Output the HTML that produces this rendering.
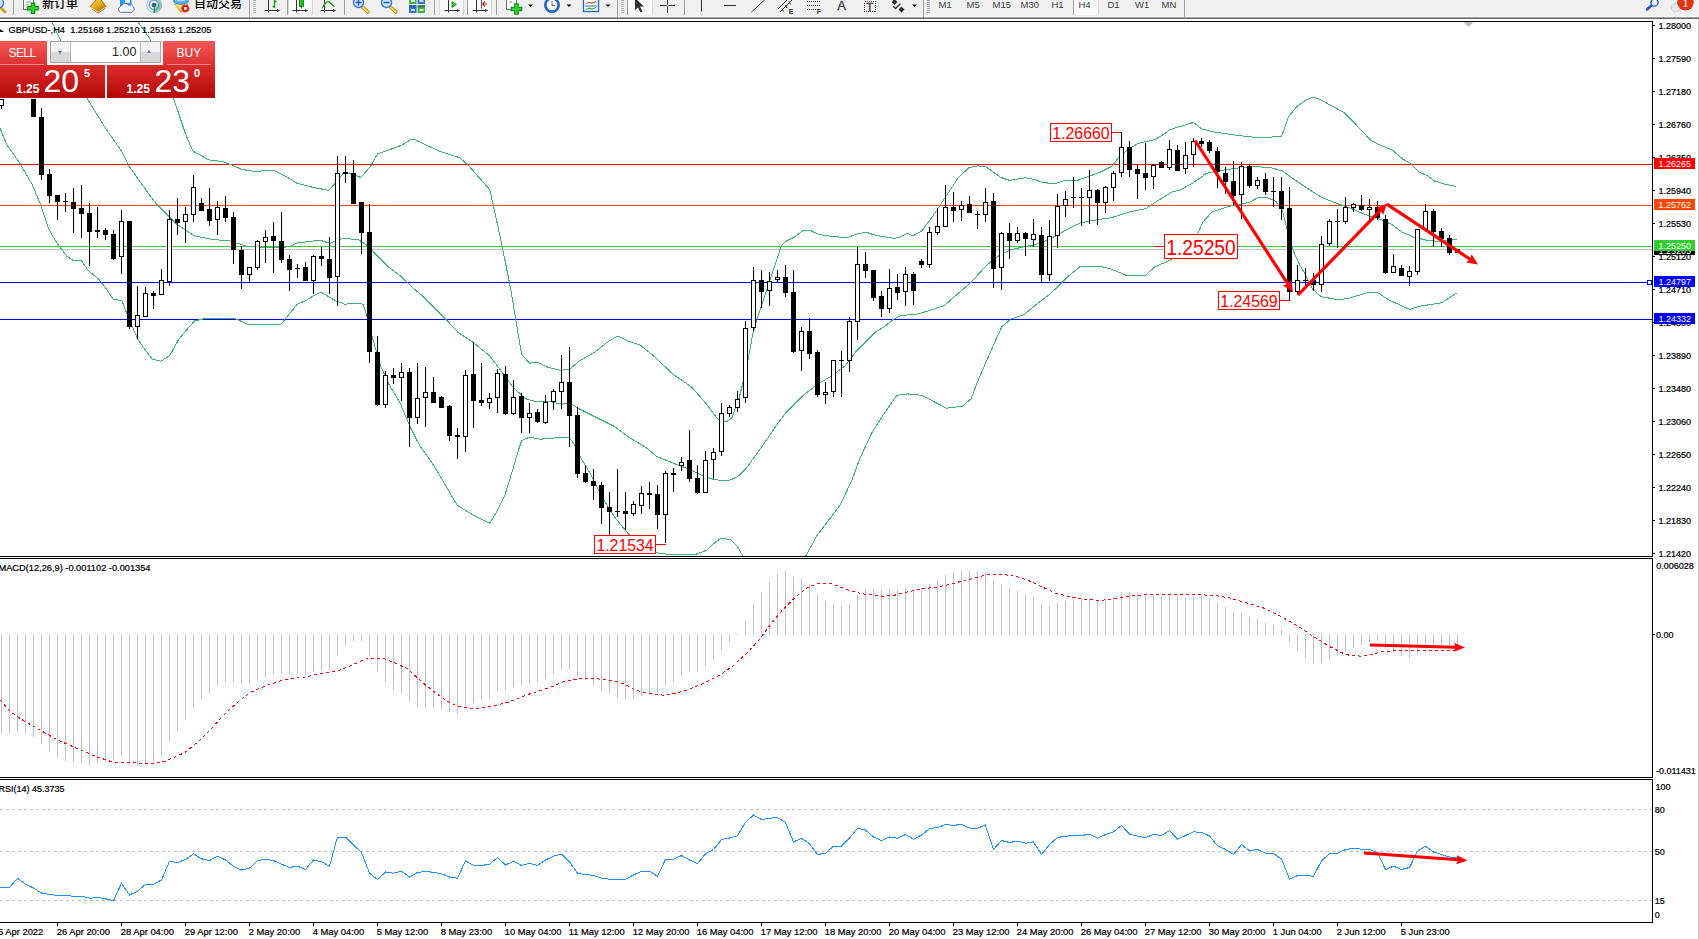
<!DOCTYPE html>
<html lang="zh"><head><meta charset="utf-8"><title>GBPUSD-,H4</title>
<style>
html,body{margin:0;padding:0;background:#fff;}
body{width:1699px;height:939px;overflow:hidden;position:relative;font-family:"Liberation Sans","Noto Sans CJK SC",sans-serif;}
#chart{position:absolute;left:0;top:0;width:1699px;height:939px;}
#chart text{font-family:"Liberation Sans","Noto Sans CJK SC",sans-serif;}
#chart g.k text{stroke:#000;stroke-width:.22px;}
#tb{position:absolute;left:0;top:0;width:1699px;height:17px;background:#f0f0f0;border-bottom:1px solid #a0a0a0;overflow:hidden;}
#tb .t{position:absolute;top:-3.6px;font-size:12px;line-height:16px;color:#000;white-space:nowrap;font-weight:500;}
#tb .p{position:absolute;top:-0.6px;font-size:9.5px;line-height:11px;color:#3c3c3c;white-space:nowrap;}
#tb .sep{position:absolute;top:0;width:1px;height:15px;background:#a0a0a0;}
#tb .grip{position:absolute;top:0;width:3px;height:14px;background:repeating-linear-gradient(#b0b0b0 0 1px,#f0f0f0 1px 2px);}
#tb .hl{position:absolute;top:0;height:15px;background:#fafafa;border-left:1px solid #d8d8d8;border-right:1px solid #d8d8d8;}
#tb svg{position:absolute;left:0;top:0;}
#oc{position:absolute;left:0;top:41px;width:215px;height:57px;color:#fff;}
#oc div{position:absolute;box-sizing:border-box;}
#oc .sell{left:0;top:0;width:47px;height:24px;background:linear-gradient(#f65656,#dc3232);}
#oc .buy{left:163px;top:0;width:52px;height:24px;background:linear-gradient(#f65656,#dc3232);}
#oc .mid{left:47px;top:0;width:116px;height:24px;background:#f6f6f6;}
#oc .fld{left:50px;top:0;width:111px;height:22px;background:#fff;border:1px solid #a8a8a8;}
#oc .dn{left:51px;top:1px;width:20px;height:20px;background:linear-gradient(#f4f4f4 0 45%,#d8d8d8 55% 100%);border-right:1px solid #b8b8b8;}
#oc .up{left:140px;top:1px;width:20px;height:20px;background:linear-gradient(#f4f4f4 0 45%,#d8d8d8 55% 100%);border-left:1px solid #b8b8b8;}
#oc .ps{left:0;top:24px;width:105px;height:33px;background:linear-gradient(#da2c2c,#b40808);}
#oc .pb{left:107px;top:24px;width:108px;height:33px;background:linear-gradient(#da2c2c,#b40808);}
#oc .gap{left:105px;top:24px;width:2px;height:33px;background:#f4f4f4;}
#oc span{position:absolute;white-space:nowrap;line-height:1;}
#oc .lb{font-size:12px;top:6px;letter-spacing:-0.6px;}
#oc .vol{font-size:12.5px;color:#222;top:5px;}
#oc .sm{font-size:12px;font-weight:bold;top:42px;}
#oc .big{font-size:32px;top:24.2px;letter-spacing:0px;}
#oc .sup{font-size:11px;font-weight:bold;top:27px;}
#oc .tri{width:0;height:0;border-left:2.5px solid transparent;border-right:2.5px solid transparent;}
#oc .hln{height:1px;top:23px;background:rgba(255,200,200,.55);}

</style></head>
<body>
<svg id="chart" width="1699" height="939" viewBox="0 0 1699 939">
<defs><clipPath id="cm"><rect x="0" y="22" width="1652" height="534"/></clipPath><clipPath id="c2"><rect x="0" y="559" width="1652" height="218"/></clipPath><clipPath id="c3"><rect x="0" y="780" width="1652" height="142"/></clipPath></defs>
<g shape-rendering="crispEdges">
<rect x="0" y="21" width="1653" height="1" fill="#000"/>
<rect x="1652" y="21" width="1" height="902" fill="#000"/>
<rect x="0" y="556" width="1653" height="1" fill="#000"/>
<rect x="0" y="557" width="1653" height="1" fill="#fbfbfb"/>
<rect x="0" y="558" width="1653" height="1" fill="#000"/>
<rect x="0" y="777" width="1653" height="1" fill="#000"/>
<rect x="0" y="778" width="1653" height="1" fill="#fbfbfb"/>
<rect x="0" y="779" width="1653" height="1" fill="#000"/>
<rect x="0" y="922" width="1653" height="1" fill="#000"/>
<rect x="1698" y="18" width="1" height="921" fill="#c8c8c8"/>
<rect x="0" y="18" width="1699" height="1" fill="#6c6c6c"/>
</g>
<g shape-rendering="crispEdges">
<rect x="0" y="164" width="1652" height="1" fill="#ff0000"/>
<rect x="0" y="205" width="1652" height="1" fill="#ff4500"/>
<rect x="0" y="249" width="1652" height="1" fill="#c0c0c0"/>
<rect x="0" y="246" width="1652" height="1" fill="#32cd32"/>
<rect x="0" y="282" width="1652" height="1" fill="#0000ff"/>
<rect x="0" y="319" width="1652" height="1" fill="#0000ff"/>
</g>
<g clip-path="url(#cm)" fill="none" stroke="#3cb371" stroke-width="1" shape-rendering="crispEdges">
<polyline points="136.0,18.0 138.0,22.0 149.6,38.3 174.0,100.0 178.5,113.0 185.6,134.2 192.7,151.0 208.6,159.8 222.7,161.6 229.8,164.2 242.0,169.5 254.5,171.3 274.0,170.4 286.4,176.6 290.0,178.9 297.0,183.3 313.0,187.4 328.9,190.4 334.2,184.2 343.0,173.6 351.0,173.0 360.7,177.6 370.4,166.5 377.5,153.8 387.2,150.6 401.4,145.3 410.2,140.0 414.0,139.0 417.3,140.9 440.3,151.5 459.7,157.7 468.5,165.6 489.7,189.5 493.3,205.4 502.1,246.0 509.2,281.4 511.9,296.0 516.3,322.5 521.6,354.3 529.5,363.2 537.5,362.3 546.3,366.7 560.0,370.2 569.4,369.5 578.8,361.3 595.3,351.8 607.0,342.4 617.7,336.0 628.3,341.2 640.0,344.8 654.2,356.5 673.0,374.2 691.8,387.2 706.0,403.6 717.7,418.9 726.0,422.0 731.9,417.8 738.9,398.9 746.0,370.7 753.0,333.0 760.1,309.5 767.2,288.3 774.2,267.0 781.3,245.9 786.0,241.2 795.4,236.5 802.5,231.0 809.6,230.1 819.0,234.6 833.0,236.5 847.2,237.7 856.6,234.0 866.0,232.2 875.5,235.3 894.3,238.4 900.0,237.0 907.0,233.4 913.3,235.7 922.0,230.8 933.6,214.9 944.2,199.0 958.3,177.7 969.0,167.5 977.8,165.9 985.7,166.6 1000.8,177.4 1009.6,180.4 1025.5,177.7 1034.3,179.5 1043.2,182.7 1055.6,183.6 1066.2,180.0 1078.5,180.0 1087.4,176.8 1099.8,172.4 1112.0,166.2 1119.2,156.5 1128.0,149.4 1138.6,143.3 1154.5,139.7 1165.2,133.5 1169.0,129.8 1183.7,125.4 1193.5,122.4 1201.6,128.9 1213.5,131.9 1224.2,133.5 1240.0,135.7 1256.0,137.4 1268.3,137.2 1281.5,136.4 1285.0,127.2 1288.6,116.6 1296.6,106.8 1305.4,100.3 1313.4,97.1 1319.5,99.2 1330.2,105.0 1344.3,112.7 1356.7,125.4 1370.8,140.4 1381.4,145.7 1392.0,149.8 1402.6,159.0 1409.7,163.0 1418.5,171.7 1427.4,175.8 1434.4,181.0 1445.0,184.3 1456.5,186.4"/>
<polyline points="50.0,18.0 52.1,22.0 59.6,38.3 88.0,100.0 106.0,128.9 122.0,151.9 129.0,166.0 141.4,183.7 155.5,203.0 169.7,217.0 176.8,224.3 194.4,235.8 212.0,239.4 229.8,241.0 247.5,246.4 265.0,247.3 282.8,247.3 290.0,246.6 297.0,243.0 320.0,240.2 329.8,243.4 343.0,238.1 359.0,239.9 367.8,246.0 374.8,253.1 389.0,267.3 399.6,275.2 413.7,288.5 422.6,296.0 436.7,310.0 445.6,319.0 457.9,332.2 473.8,342.8 489.8,356.0 502.0,372.0 512.7,387.0 521.6,395.0 526.9,399.4 537.5,401.7 551.6,402.0 562.2,404.2 567.5,403.0 573.8,405.3 578.0,408.3 593.2,415.9 614.4,426.5 628.6,437.1 646.3,447.7 656.9,456.6 674.5,463.6 690.0,469.5 700.6,474.8 713.0,479.3 721.8,480.5 729.8,480.2 737.7,476.6 746.6,467.8 760.7,448.3 778.4,422.7 785.5,413.0 796.0,402.4 805.0,393.8 820.8,382.3 831.4,376.0 845.6,365.5 856.0,351.4 866.8,340.8 875.6,332.0 884.4,326.6 893.3,319.5 900.4,315.7 918.0,313.9 932.0,309.8 944.5,305.4 958.7,293.0 971.0,282.4 986.6,265.2 999.0,255.5 1009.6,250.2 1023.7,246.7 1034.3,244.9 1046.7,240.5 1055.6,236.0 1067.9,229.0 1080.3,222.8 1094.4,220.2 1112.0,217.5 1129.8,211.8 1145.7,208.7 1156.3,201.6 1172.0,192.0 1180.0,190.0 1192.0,183.5 1200.0,178.0 1206.5,173.3 1222.4,170.3 1238.3,168.0 1256.0,166.6 1272.0,168.0 1282.5,171.0 1293.0,178.6 1307.3,188.3 1321.4,197.2 1335.6,203.0 1349.7,207.8 1363.8,214.0 1378.0,218.4 1392.1,224.6 1402.7,232.5 1413.3,237.0 1427.5,240.5 1441.6,241.4 1448.7,240.5 1456.6,239.2"/>
<polyline points="-2.0,124.0 0.0,128.0 6.8,145.0 10.6,150.0 19.4,162.5 31.8,183.7 40.7,205.0 47.7,226.5 53.0,236.7 58.3,245.0 67.2,256.6 74.2,261.0 81.3,260.5 88.4,270.7 99.0,279.5 106.0,288.4 113.0,299.0 122.0,300.8 127.3,315.0 137.9,339.7 152.0,359.0 160.9,361.2 169.7,355.6 178.5,339.7 187.4,329.0 194.5,321.0 205.0,318.4 235.0,318.4 247.5,324.3 265.0,324.3 281.0,324.3 290.0,313.0 297.0,304.5 306.0,300.5 313.0,296.0 321.0,292.0 329.0,297.0 336.0,300.9 344.8,304.2 360.7,303.0 363.4,305.0 367.8,319.0 372.2,336.7 380.2,365.0 389.0,384.4 399.6,402.0 410.2,426.8 417.3,441.0 420.0,446.0 431.4,462.0 441.2,477.8 457.1,505.2 473.0,514.9 489.8,523.2 496.0,513.0 504.8,495.5 511.9,472.5 518.1,451.3 521.6,440.7 529.6,437.1 540.2,439.2 554.3,438.0 568.5,437.1 573.8,443.3 580.0,456.6 589.7,472.5 598.5,490.2 607.4,506.0 614.4,516.7 625.0,529.9 629.5,535.2 640.0,544.0 656.9,552.9 667.5,554.3 695.8,554.3 706.4,550.3 716.5,541.1 721.8,538.1 730.7,539.9 736.8,545.6 743.0,556.0 760.0,575.0 790.0,575.0 805.8,556.0 817.3,535.0 840.3,504.9 852.6,478.4 859.7,458.9 872.0,432.4 884.5,413.0 896.8,395.3 907.4,393.9 921.6,395.3 941.0,405.3 946.3,408.2 962.2,406.3 971.0,398.8 979.9,376.0 989.8,353.5 1001.8,326.7 1010.7,319.2 1024.1,314.7 1034.6,305.8 1049.5,294.5 1059.0,285.6 1069.7,275.0 1080.3,266.5 1099.8,266.1 1110.4,268.8 1126.3,275.3 1145.7,275.3 1154.5,267.0 1170.5,260.0 1198.0,233.0 1203.0,221.9 1211.8,212.2 1224.2,207.8 1234.8,205.1 1249.0,202.5 1257.8,197.7 1268.4,198.0 1276.3,201.6 1282.5,211.3 1287.0,229.0 1293.0,250.2 1300.2,266.1 1303.7,271.5 1312.6,289.2 1321.4,296.8 1339.0,299.8 1349.7,298.0 1369.0,292.2 1377.0,292.2 1388.6,299.8 1409.8,309.5 1418.6,306.4 1441.6,302.8 1456.6,293.0"/>
</g>
<polygon points="1463.5,22 1473.5,22 1468.5,27.3" fill="#c0c0c0"/>
<rect x="1647.5" y="280.5" width="4" height="4" fill="#fff" stroke="#0000ff" stroke-width="1" shape-rendering="crispEdges"/>
<g shape-rendering="crispEdges" fill="#ff0000">
<rect x="1111" y="132" width="11" height="1"/>
<rect x="656" y="544" width="10" height="1"/>
<rect x="1280" y="300" width="10" height="1"/>
<rect x="1154" y="246" width="10" height="1"/>
</g>
<rect x="1050.5" y="123.5" width="61" height="18" fill="#fff" stroke="#ff0000" stroke-width="1" shape-rendering="crispEdges"/><text x="1052.3" y="139.2" font-size="17.4" fill="#ff0000" textLength="57.3" lengthAdjust="spacingAndGlyphs">1.26660</text>
<rect x="594.5" y="535.5" width="61" height="18" fill="#fff" stroke="#ff0000" stroke-width="1" shape-rendering="crispEdges"/><text x="596.4" y="551.2" font-size="17.4" fill="#ff0000" textLength="57.3" lengthAdjust="spacingAndGlyphs">1.21534</text>
<rect x="1218.5" y="291.5" width="61" height="18" fill="#fff" stroke="#ff0000" stroke-width="1" shape-rendering="crispEdges"/><text x="1220.3" y="307.2" font-size="17.4" fill="#ff0000" textLength="57.3" lengthAdjust="spacingAndGlyphs">1.24569</text>
<rect x="1164.5" y="234.5" width="73" height="24" fill="#fff" stroke="#ff0000" stroke-width="1" shape-rendering="crispEdges"/><text x="1166.3" y="255.0" font-size="22.3" fill="#ff0000" textLength="69.4" lengthAdjust="spacingAndGlyphs">1.25250</text>
<g clip-path="url(#cm)" shape-rendering="crispEdges">
<rect x="1" y="99" width="1" height="10" fill="#000"/>
<rect x="-1" y="99" width="5" height="7" fill="#000"/>
<rect x="0" y="100" width="3" height="5" fill="#fff"/>
<rect x="33" y="99" width="1" height="18" fill="#000"/>
<rect x="31" y="99" width="5" height="18" fill="#000"/>
<rect x="41" y="108" width="1" height="72" fill="#000"/>
<rect x="39" y="117" width="5" height="58" fill="#000"/>
<rect x="49" y="169" width="1" height="34" fill="#000"/>
<rect x="47" y="174" width="5" height="22" fill="#000"/>
<rect x="57" y="195" width="1" height="25" fill="#000"/>
<rect x="55" y="195" width="5" height="7" fill="#000"/>
<rect x="65" y="193" width="1" height="19" fill="#000"/>
<rect x="63" y="201" width="5" height="1" fill="#000"/>
<rect x="73" y="188" width="1" height="45" fill="#000"/>
<rect x="71" y="202" width="5" height="7" fill="#000"/>
<rect x="81" y="185" width="1" height="53" fill="#000"/>
<rect x="79" y="208" width="5" height="6" fill="#000"/>
<rect x="89" y="203" width="1" height="63" fill="#000"/>
<rect x="87" y="213" width="5" height="19" fill="#000"/>
<rect x="97" y="207" width="1" height="31" fill="#000"/>
<rect x="95" y="230" width="5" height="2" fill="#000"/>
<rect x="105" y="228" width="1" height="12" fill="#000"/>
<rect x="103" y="230" width="5" height="5" fill="#000"/>
<rect x="113" y="230" width="1" height="30" fill="#000"/>
<rect x="111" y="234" width="5" height="25" fill="#000"/>
<rect x="121" y="210" width="1" height="64" fill="#000"/>
<rect x="119" y="221" width="5" height="36" fill="#000"/>
<rect x="120" y="222" width="3" height="34" fill="#fff"/>
<rect x="129" y="221" width="1" height="108" fill="#000"/>
<rect x="127" y="221" width="5" height="106" fill="#000"/>
<rect x="137" y="286" width="1" height="53" fill="#000"/>
<rect x="135" y="315" width="5" height="12" fill="#000"/>
<rect x="136" y="316" width="3" height="10" fill="#fff"/>
<rect x="145" y="287" width="1" height="30" fill="#000"/>
<rect x="143" y="293" width="5" height="24" fill="#000"/>
<rect x="144" y="294" width="3" height="22" fill="#fff"/>
<rect x="153" y="291" width="1" height="18" fill="#000"/>
<rect x="151" y="293" width="5" height="3" fill="#000"/>
<rect x="161" y="269" width="1" height="26" fill="#000"/>
<rect x="159" y="280" width="5" height="15" fill="#000"/>
<rect x="160" y="281" width="3" height="13" fill="#fff"/>
<rect x="169" y="210" width="1" height="76" fill="#000"/>
<rect x="167" y="219" width="5" height="63" fill="#000"/>
<rect x="168" y="220" width="3" height="61" fill="#fff"/>
<rect x="177" y="198" width="1" height="37" fill="#000"/>
<rect x="175" y="219" width="5" height="4" fill="#000"/>
<rect x="185" y="207" width="1" height="36" fill="#000"/>
<rect x="183" y="214" width="5" height="8" fill="#000"/>
<rect x="184" y="215" width="3" height="6" fill="#fff"/>
<rect x="193" y="175" width="1" height="47" fill="#000"/>
<rect x="191" y="187" width="5" height="28" fill="#000"/>
<rect x="192" y="188" width="3" height="26" fill="#fff"/>
<rect x="201" y="198" width="1" height="13" fill="#000"/>
<rect x="199" y="203" width="5" height="8" fill="#000"/>
<rect x="209" y="188" width="1" height="38" fill="#000"/>
<rect x="207" y="209" width="5" height="12" fill="#000"/>
<rect x="217" y="201" width="1" height="34" fill="#000"/>
<rect x="215" y="207" width="5" height="13" fill="#000"/>
<rect x="216" y="208" width="3" height="11" fill="#fff"/>
<rect x="225" y="196" width="1" height="26" fill="#000"/>
<rect x="223" y="208" width="5" height="10" fill="#000"/>
<rect x="233" y="212" width="1" height="52" fill="#000"/>
<rect x="231" y="217" width="5" height="33" fill="#000"/>
<rect x="241" y="246" width="1" height="43" fill="#000"/>
<rect x="239" y="250" width="5" height="25" fill="#000"/>
<rect x="249" y="267" width="1" height="15" fill="#000"/>
<rect x="247" y="267" width="5" height="8" fill="#000"/>
<rect x="248" y="268" width="3" height="6" fill="#fff"/>
<rect x="257" y="240" width="1" height="30" fill="#000"/>
<rect x="255" y="241" width="5" height="27" fill="#000"/>
<rect x="256" y="242" width="3" height="25" fill="#fff"/>
<rect x="265" y="230" width="1" height="33" fill="#000"/>
<rect x="263" y="237" width="5" height="5" fill="#000"/>
<rect x="264" y="238" width="3" height="3" fill="#fff"/>
<rect x="273" y="222" width="1" height="51" fill="#000"/>
<rect x="271" y="236" width="5" height="5" fill="#000"/>
<rect x="281" y="212" width="1" height="51" fill="#000"/>
<rect x="279" y="241" width="5" height="19" fill="#000"/>
<rect x="289" y="255" width="1" height="36" fill="#000"/>
<rect x="287" y="259" width="5" height="11" fill="#000"/>
<rect x="297" y="264" width="1" height="14" fill="#000"/>
<rect x="295" y="268" width="5" height="1" fill="#000"/>
<rect x="305" y="262" width="1" height="19" fill="#000"/>
<rect x="303" y="267" width="5" height="14" fill="#000"/>
<rect x="313" y="255" width="1" height="39" fill="#000"/>
<rect x="311" y="256" width="5" height="25" fill="#000"/>
<rect x="312" y="257" width="3" height="23" fill="#fff"/>
<rect x="321" y="247" width="1" height="19" fill="#000"/>
<rect x="319" y="256" width="5" height="3" fill="#000"/>
<rect x="329" y="237" width="1" height="57" fill="#000"/>
<rect x="327" y="259" width="5" height="19" fill="#000"/>
<rect x="337" y="156" width="1" height="150" fill="#000"/>
<rect x="335" y="173" width="5" height="104" fill="#000"/>
<rect x="336" y="174" width="3" height="102" fill="#fff"/>
<rect x="345" y="156" width="1" height="27" fill="#000"/>
<rect x="343" y="172" width="5" height="2" fill="#000"/>
<rect x="353" y="160" width="1" height="44" fill="#000"/>
<rect x="351" y="173" width="5" height="31" fill="#000"/>
<rect x="361" y="202" width="1" height="52" fill="#000"/>
<rect x="359" y="202" width="5" height="31" fill="#000"/>
<rect x="369" y="204" width="1" height="159" fill="#000"/>
<rect x="367" y="232" width="5" height="120" fill="#000"/>
<rect x="377" y="336" width="1" height="70" fill="#000"/>
<rect x="375" y="352" width="5" height="53" fill="#000"/>
<rect x="385" y="371" width="1" height="37" fill="#000"/>
<rect x="383" y="375" width="5" height="30" fill="#000"/>
<rect x="384" y="376" width="3" height="28" fill="#fff"/>
<rect x="393" y="368" width="1" height="16" fill="#000"/>
<rect x="391" y="375" width="5" height="3" fill="#000"/>
<rect x="401" y="363" width="1" height="38" fill="#000"/>
<rect x="399" y="372" width="5" height="6" fill="#000"/>
<rect x="400" y="373" width="3" height="4" fill="#fff"/>
<rect x="409" y="368" width="1" height="79" fill="#000"/>
<rect x="407" y="372" width="5" height="46" fill="#000"/>
<rect x="417" y="363" width="1" height="61" fill="#000"/>
<rect x="415" y="398" width="5" height="20" fill="#000"/>
<rect x="416" y="399" width="3" height="18" fill="#fff"/>
<rect x="425" y="367" width="1" height="60" fill="#000"/>
<rect x="423" y="392" width="5" height="6" fill="#000"/>
<rect x="424" y="393" width="3" height="4" fill="#fff"/>
<rect x="433" y="377" width="1" height="26" fill="#000"/>
<rect x="431" y="392" width="5" height="11" fill="#000"/>
<rect x="441" y="396" width="1" height="12" fill="#000"/>
<rect x="439" y="397" width="5" height="11" fill="#000"/>
<rect x="449" y="405" width="1" height="36" fill="#000"/>
<rect x="447" y="406" width="5" height="30" fill="#000"/>
<rect x="457" y="428" width="1" height="31" fill="#000"/>
<rect x="455" y="435" width="5" height="2" fill="#000"/>
<rect x="465" y="370" width="1" height="82" fill="#000"/>
<rect x="463" y="375" width="5" height="62" fill="#000"/>
<rect x="464" y="376" width="3" height="60" fill="#fff"/>
<rect x="473" y="342" width="1" height="86" fill="#000"/>
<rect x="471" y="374" width="5" height="27" fill="#000"/>
<rect x="481" y="363" width="1" height="43" fill="#000"/>
<rect x="479" y="400" width="5" height="3" fill="#000"/>
<rect x="489" y="393" width="1" height="16" fill="#000"/>
<rect x="487" y="398" width="5" height="5" fill="#000"/>
<rect x="488" y="399" width="3" height="3" fill="#fff"/>
<rect x="497" y="369" width="1" height="44" fill="#000"/>
<rect x="495" y="373" width="5" height="25" fill="#000"/>
<rect x="496" y="374" width="3" height="23" fill="#fff"/>
<rect x="505" y="366" width="1" height="49" fill="#000"/>
<rect x="503" y="374" width="5" height="40" fill="#000"/>
<rect x="513" y="380" width="1" height="35" fill="#000"/>
<rect x="511" y="397" width="5" height="17" fill="#000"/>
<rect x="512" y="398" width="3" height="15" fill="#fff"/>
<rect x="521" y="393" width="1" height="40" fill="#000"/>
<rect x="519" y="396" width="5" height="22" fill="#000"/>
<rect x="529" y="403" width="1" height="30" fill="#000"/>
<rect x="527" y="413" width="5" height="5" fill="#000"/>
<rect x="528" y="414" width="3" height="3" fill="#fff"/>
<rect x="537" y="409" width="1" height="14" fill="#000"/>
<rect x="535" y="412" width="5" height="10" fill="#000"/>
<rect x="545" y="395" width="1" height="29" fill="#000"/>
<rect x="543" y="402" width="5" height="21" fill="#000"/>
<rect x="544" y="403" width="3" height="19" fill="#fff"/>
<rect x="553" y="389" width="1" height="21" fill="#000"/>
<rect x="551" y="391" width="5" height="11" fill="#000"/>
<rect x="552" y="392" width="3" height="9" fill="#fff"/>
<rect x="561" y="355" width="1" height="54" fill="#000"/>
<rect x="559" y="382" width="5" height="10" fill="#000"/>
<rect x="560" y="383" width="3" height="8" fill="#fff"/>
<rect x="569" y="347" width="1" height="100" fill="#000"/>
<rect x="567" y="382" width="5" height="34" fill="#000"/>
<rect x="577" y="407" width="1" height="71" fill="#000"/>
<rect x="575" y="415" width="5" height="59" fill="#000"/>
<rect x="585" y="465" width="1" height="18" fill="#000"/>
<rect x="583" y="473" width="5" height="9" fill="#000"/>
<rect x="593" y="469" width="1" height="31" fill="#000"/>
<rect x="591" y="481" width="5" height="5" fill="#000"/>
<rect x="601" y="482" width="1" height="42" fill="#000"/>
<rect x="599" y="485" width="5" height="23" fill="#000"/>
<rect x="609" y="492" width="1" height="43" fill="#000"/>
<rect x="607" y="507" width="5" height="5" fill="#000"/>
<rect x="617" y="469" width="1" height="48" fill="#000"/>
<rect x="615" y="511" width="5" height="1" fill="#000"/>
<rect x="625" y="492" width="1" height="38" fill="#000"/>
<rect x="623" y="511" width="5" height="3" fill="#000"/>
<rect x="633" y="501" width="1" height="15" fill="#000"/>
<rect x="631" y="504" width="5" height="10" fill="#000"/>
<rect x="632" y="505" width="3" height="8" fill="#fff"/>
<rect x="641" y="486" width="1" height="28" fill="#000"/>
<rect x="639" y="493" width="5" height="13" fill="#000"/>
<rect x="640" y="494" width="3" height="11" fill="#fff"/>
<rect x="649" y="482" width="1" height="27" fill="#000"/>
<rect x="647" y="493" width="5" height="2" fill="#000"/>
<rect x="657" y="485" width="1" height="44" fill="#000"/>
<rect x="655" y="494" width="5" height="21" fill="#000"/>
<rect x="665" y="471" width="1" height="72" fill="#000"/>
<rect x="663" y="473" width="5" height="42" fill="#000"/>
<rect x="664" y="474" width="3" height="40" fill="#fff"/>
<rect x="673" y="468" width="1" height="24" fill="#000"/>
<rect x="671" y="473" width="5" height="2" fill="#000"/>
<rect x="681" y="457" width="1" height="14" fill="#000"/>
<rect x="679" y="462" width="5" height="4" fill="#000"/>
<rect x="680" y="463" width="3" height="2" fill="#fff"/>
<rect x="689" y="430" width="1" height="52" fill="#000"/>
<rect x="687" y="460" width="5" height="19" fill="#000"/>
<rect x="697" y="465" width="1" height="29" fill="#000"/>
<rect x="695" y="478" width="5" height="15" fill="#000"/>
<rect x="705" y="451" width="1" height="42" fill="#000"/>
<rect x="703" y="460" width="5" height="33" fill="#000"/>
<rect x="704" y="461" width="3" height="31" fill="#fff"/>
<rect x="713" y="448" width="1" height="31" fill="#000"/>
<rect x="711" y="452" width="5" height="8" fill="#000"/>
<rect x="712" y="453" width="3" height="6" fill="#fff"/>
<rect x="721" y="403" width="1" height="53" fill="#000"/>
<rect x="719" y="413" width="5" height="39" fill="#000"/>
<rect x="720" y="414" width="3" height="37" fill="#fff"/>
<rect x="729" y="405" width="1" height="12" fill="#000"/>
<rect x="727" y="407" width="5" height="7" fill="#000"/>
<rect x="728" y="408" width="3" height="5" fill="#fff"/>
<rect x="737" y="391" width="1" height="21" fill="#000"/>
<rect x="735" y="399" width="5" height="9" fill="#000"/>
<rect x="736" y="400" width="3" height="7" fill="#fff"/>
<rect x="745" y="321" width="1" height="82" fill="#000"/>
<rect x="743" y="328" width="5" height="70" fill="#000"/>
<rect x="744" y="329" width="3" height="68" fill="#fff"/>
<rect x="753" y="267" width="1" height="64" fill="#000"/>
<rect x="751" y="280" width="5" height="48" fill="#000"/>
<rect x="752" y="281" width="3" height="46" fill="#fff"/>
<rect x="761" y="270" width="1" height="38" fill="#000"/>
<rect x="759" y="280" width="5" height="12" fill="#000"/>
<rect x="769" y="272" width="1" height="34" fill="#000"/>
<rect x="767" y="281" width="5" height="10" fill="#000"/>
<rect x="768" y="282" width="3" height="8" fill="#fff"/>
<rect x="777" y="270" width="1" height="12" fill="#000"/>
<rect x="775" y="277" width="5" height="3" fill="#000"/>
<rect x="776" y="278" width="3" height="1" fill="#fff"/>
<rect x="785" y="265" width="1" height="32" fill="#000"/>
<rect x="783" y="277" width="5" height="16" fill="#000"/>
<rect x="793" y="270" width="1" height="83" fill="#000"/>
<rect x="791" y="292" width="5" height="60" fill="#000"/>
<rect x="801" y="327" width="1" height="44" fill="#000"/>
<rect x="799" y="331" width="5" height="20" fill="#000"/>
<rect x="800" y="332" width="3" height="18" fill="#fff"/>
<rect x="809" y="318" width="1" height="41" fill="#000"/>
<rect x="807" y="331" width="5" height="23" fill="#000"/>
<rect x="817" y="350" width="1" height="47" fill="#000"/>
<rect x="815" y="352" width="5" height="43" fill="#000"/>
<rect x="825" y="382" width="1" height="22" fill="#000"/>
<rect x="823" y="392" width="5" height="3" fill="#000"/>
<rect x="824" y="393" width="3" height="1" fill="#fff"/>
<rect x="833" y="360" width="1" height="37" fill="#000"/>
<rect x="831" y="360" width="5" height="32" fill="#000"/>
<rect x="832" y="361" width="3" height="30" fill="#fff"/>
<rect x="841" y="351" width="1" height="46" fill="#000"/>
<rect x="839" y="360" width="5" height="1" fill="#000"/>
<rect x="849" y="317" width="1" height="55" fill="#000"/>
<rect x="847" y="321" width="5" height="40" fill="#000"/>
<rect x="848" y="322" width="3" height="38" fill="#fff"/>
<rect x="857" y="247" width="1" height="93" fill="#000"/>
<rect x="855" y="264" width="5" height="58" fill="#000"/>
<rect x="856" y="265" width="3" height="56" fill="#fff"/>
<rect x="865" y="252" width="1" height="26" fill="#000"/>
<rect x="863" y="264" width="5" height="7" fill="#000"/>
<rect x="873" y="270" width="1" height="31" fill="#000"/>
<rect x="871" y="270" width="5" height="28" fill="#000"/>
<rect x="881" y="291" width="1" height="26" fill="#000"/>
<rect x="879" y="296" width="5" height="13" fill="#000"/>
<rect x="889" y="269" width="1" height="44" fill="#000"/>
<rect x="887" y="288" width="5" height="21" fill="#000"/>
<rect x="888" y="289" width="3" height="19" fill="#fff"/>
<rect x="897" y="274" width="1" height="26" fill="#000"/>
<rect x="895" y="287" width="5" height="6" fill="#000"/>
<rect x="905" y="267" width="1" height="39" fill="#000"/>
<rect x="903" y="274" width="5" height="18" fill="#000"/>
<rect x="904" y="275" width="3" height="16" fill="#fff"/>
<rect x="913" y="272" width="1" height="33" fill="#000"/>
<rect x="911" y="274" width="5" height="17" fill="#000"/>
<rect x="921" y="259" width="1" height="9" fill="#000"/>
<rect x="919" y="261" width="5" height="4" fill="#000"/>
<rect x="929" y="227" width="1" height="41" fill="#000"/>
<rect x="927" y="232" width="5" height="33" fill="#000"/>
<rect x="928" y="233" width="3" height="31" fill="#fff"/>
<rect x="937" y="208" width="1" height="27" fill="#000"/>
<rect x="935" y="226" width="5" height="7" fill="#000"/>
<rect x="936" y="227" width="3" height="5" fill="#fff"/>
<rect x="945" y="185" width="1" height="42" fill="#000"/>
<rect x="943" y="207" width="5" height="20" fill="#000"/>
<rect x="944" y="208" width="3" height="18" fill="#fff"/>
<rect x="953" y="192" width="1" height="30" fill="#000"/>
<rect x="951" y="207" width="5" height="4" fill="#000"/>
<rect x="961" y="201" width="1" height="20" fill="#000"/>
<rect x="959" y="205" width="5" height="5" fill="#000"/>
<rect x="960" y="206" width="3" height="3" fill="#fff"/>
<rect x="969" y="196" width="1" height="17" fill="#000"/>
<rect x="967" y="204" width="5" height="9" fill="#000"/>
<rect x="977" y="211" width="1" height="18" fill="#000"/>
<rect x="975" y="214" width="5" height="1" fill="#000"/>
<rect x="985" y="188" width="1" height="34" fill="#000"/>
<rect x="983" y="202" width="5" height="13" fill="#000"/>
<rect x="984" y="203" width="3" height="11" fill="#fff"/>
<rect x="993" y="193" width="1" height="95" fill="#000"/>
<rect x="991" y="201" width="5" height="68" fill="#000"/>
<rect x="1001" y="232" width="1" height="58" fill="#000"/>
<rect x="999" y="233" width="5" height="35" fill="#000"/>
<rect x="1000" y="234" width="3" height="33" fill="#fff"/>
<rect x="1009" y="223" width="1" height="36" fill="#000"/>
<rect x="1007" y="233" width="5" height="8" fill="#000"/>
<rect x="1017" y="227" width="1" height="16" fill="#000"/>
<rect x="1015" y="233" width="5" height="8" fill="#000"/>
<rect x="1016" y="234" width="3" height="6" fill="#fff"/>
<rect x="1025" y="232" width="1" height="24" fill="#000"/>
<rect x="1023" y="233" width="5" height="6" fill="#000"/>
<rect x="1033" y="219" width="1" height="28" fill="#000"/>
<rect x="1031" y="234" width="5" height="6" fill="#000"/>
<rect x="1032" y="235" width="3" height="4" fill="#fff"/>
<rect x="1041" y="227" width="1" height="55" fill="#000"/>
<rect x="1039" y="235" width="5" height="40" fill="#000"/>
<rect x="1049" y="220" width="1" height="61" fill="#000"/>
<rect x="1047" y="236" width="5" height="39" fill="#000"/>
<rect x="1048" y="237" width="3" height="37" fill="#fff"/>
<rect x="1057" y="194" width="1" height="54" fill="#000"/>
<rect x="1055" y="206" width="5" height="30" fill="#000"/>
<rect x="1056" y="207" width="3" height="28" fill="#fff"/>
<rect x="1065" y="191" width="1" height="26" fill="#000"/>
<rect x="1063" y="199" width="5" height="7" fill="#000"/>
<rect x="1064" y="200" width="3" height="5" fill="#fff"/>
<rect x="1073" y="177" width="1" height="31" fill="#000"/>
<rect x="1071" y="197" width="5" height="1" fill="#000"/>
<rect x="1081" y="188" width="1" height="38" fill="#000"/>
<rect x="1079" y="197" width="5" height="1" fill="#000"/>
<rect x="1089" y="170" width="1" height="54" fill="#000"/>
<rect x="1087" y="190" width="5" height="8" fill="#000"/>
<rect x="1088" y="191" width="3" height="6" fill="#fff"/>
<rect x="1097" y="189" width="1" height="36" fill="#000"/>
<rect x="1095" y="190" width="5" height="13" fill="#000"/>
<rect x="1105" y="186" width="1" height="27" fill="#000"/>
<rect x="1103" y="187" width="5" height="16" fill="#000"/>
<rect x="1104" y="188" width="3" height="14" fill="#fff"/>
<rect x="1113" y="171" width="1" height="30" fill="#000"/>
<rect x="1111" y="173" width="5" height="15" fill="#000"/>
<rect x="1112" y="174" width="3" height="13" fill="#fff"/>
<rect x="1121" y="132" width="1" height="45" fill="#000"/>
<rect x="1119" y="147" width="5" height="26" fill="#000"/>
<rect x="1120" y="148" width="3" height="24" fill="#fff"/>
<rect x="1129" y="141" width="1" height="36" fill="#000"/>
<rect x="1127" y="147" width="5" height="23" fill="#000"/>
<rect x="1137" y="165" width="1" height="34" fill="#000"/>
<rect x="1135" y="169" width="5" height="5" fill="#000"/>
<rect x="1145" y="143" width="1" height="47" fill="#000"/>
<rect x="1143" y="173" width="5" height="5" fill="#000"/>
<rect x="1153" y="164" width="1" height="25" fill="#000"/>
<rect x="1151" y="165" width="5" height="12" fill="#000"/>
<rect x="1152" y="166" width="3" height="10" fill="#fff"/>
<rect x="1161" y="161" width="1" height="7" fill="#000"/>
<rect x="1159" y="162" width="5" height="6" fill="#000"/>
<rect x="1169" y="140" width="1" height="30" fill="#000"/>
<rect x="1167" y="149" width="5" height="19" fill="#000"/>
<rect x="1168" y="150" width="3" height="17" fill="#fff"/>
<rect x="1177" y="145" width="1" height="26" fill="#000"/>
<rect x="1175" y="150" width="5" height="21" fill="#000"/>
<rect x="1185" y="142" width="1" height="32" fill="#000"/>
<rect x="1183" y="155" width="5" height="14" fill="#000"/>
<rect x="1184" y="156" width="3" height="12" fill="#fff"/>
<rect x="1193" y="138" width="1" height="29" fill="#000"/>
<rect x="1191" y="141" width="5" height="14" fill="#000"/>
<rect x="1192" y="142" width="3" height="12" fill="#fff"/>
<rect x="1201" y="138" width="1" height="9" fill="#000"/>
<rect x="1199" y="141" width="5" height="3" fill="#000"/>
<rect x="1209" y="140" width="1" height="13" fill="#000"/>
<rect x="1207" y="142" width="5" height="9" fill="#000"/>
<rect x="1217" y="147" width="1" height="41" fill="#000"/>
<rect x="1215" y="151" width="5" height="21" fill="#000"/>
<rect x="1225" y="167" width="1" height="27" fill="#000"/>
<rect x="1223" y="173" width="5" height="9" fill="#000"/>
<rect x="1233" y="161" width="1" height="44" fill="#000"/>
<rect x="1231" y="181" width="5" height="15" fill="#000"/>
<rect x="1241" y="162" width="1" height="57" fill="#000"/>
<rect x="1239" y="166" width="5" height="29" fill="#000"/>
<rect x="1240" y="167" width="3" height="27" fill="#fff"/>
<rect x="1249" y="164" width="1" height="24" fill="#000"/>
<rect x="1247" y="166" width="5" height="20" fill="#000"/>
<rect x="1257" y="177" width="1" height="12" fill="#000"/>
<rect x="1255" y="180" width="5" height="6" fill="#000"/>
<rect x="1256" y="181" width="3" height="4" fill="#fff"/>
<rect x="1265" y="173" width="1" height="22" fill="#000"/>
<rect x="1263" y="179" width="5" height="13" fill="#000"/>
<rect x="1273" y="177" width="1" height="30" fill="#000"/>
<rect x="1271" y="191" width="5" height="1" fill="#000"/>
<rect x="1281" y="177" width="1" height="43" fill="#000"/>
<rect x="1279" y="191" width="5" height="18" fill="#000"/>
<rect x="1289" y="187" width="1" height="113" fill="#000"/>
<rect x="1287" y="208" width="5" height="84" fill="#000"/>
<rect x="1297" y="265" width="1" height="29" fill="#000"/>
<rect x="1295" y="280" width="5" height="12" fill="#000"/>
<rect x="1296" y="281" width="3" height="10" fill="#fff"/>
<rect x="1305" y="268" width="1" height="19" fill="#000"/>
<rect x="1303" y="280" width="5" height="1" fill="#000"/>
<rect x="1313" y="273" width="1" height="18" fill="#000"/>
<rect x="1311" y="280" width="5" height="5" fill="#000"/>
<rect x="1321" y="236" width="1" height="56" fill="#000"/>
<rect x="1319" y="244" width="5" height="41" fill="#000"/>
<rect x="1320" y="245" width="3" height="39" fill="#fff"/>
<rect x="1329" y="219" width="1" height="27" fill="#000"/>
<rect x="1327" y="221" width="5" height="23" fill="#000"/>
<rect x="1328" y="222" width="3" height="21" fill="#fff"/>
<rect x="1337" y="209" width="1" height="39" fill="#000"/>
<rect x="1335" y="221" width="5" height="1" fill="#000"/>
<rect x="1345" y="197" width="1" height="27" fill="#000"/>
<rect x="1343" y="207" width="5" height="15" fill="#000"/>
<rect x="1344" y="208" width="3" height="13" fill="#fff"/>
<rect x="1353" y="203" width="1" height="9" fill="#000"/>
<rect x="1351" y="204" width="5" height="4" fill="#000"/>
<rect x="1352" y="205" width="3" height="2" fill="#fff"/>
<rect x="1361" y="195" width="1" height="16" fill="#000"/>
<rect x="1359" y="205" width="5" height="5" fill="#000"/>
<rect x="1369" y="199" width="1" height="21" fill="#000"/>
<rect x="1367" y="207" width="5" height="3" fill="#000"/>
<rect x="1368" y="208" width="3" height="1" fill="#fff"/>
<rect x="1377" y="201" width="1" height="19" fill="#000"/>
<rect x="1375" y="207" width="5" height="11" fill="#000"/>
<rect x="1385" y="215" width="1" height="59" fill="#000"/>
<rect x="1383" y="219" width="5" height="54" fill="#000"/>
<rect x="1393" y="254" width="1" height="19" fill="#000"/>
<rect x="1391" y="266" width="5" height="7" fill="#000"/>
<rect x="1392" y="267" width="3" height="5" fill="#fff"/>
<rect x="1401" y="265" width="1" height="11" fill="#000"/>
<rect x="1399" y="268" width="5" height="8" fill="#000"/>
<rect x="1409" y="266" width="1" height="20" fill="#000"/>
<rect x="1407" y="271" width="5" height="6" fill="#000"/>
<rect x="1408" y="272" width="3" height="4" fill="#fff"/>
<rect x="1417" y="229" width="1" height="46" fill="#000"/>
<rect x="1415" y="229" width="5" height="43" fill="#000"/>
<rect x="1416" y="230" width="3" height="41" fill="#fff"/>
<rect x="1425" y="204" width="1" height="26" fill="#000"/>
<rect x="1423" y="211" width="5" height="19" fill="#000"/>
<rect x="1424" y="212" width="3" height="17" fill="#fff"/>
<rect x="1433" y="209" width="1" height="38" fill="#000"/>
<rect x="1431" y="211" width="5" height="21" fill="#000"/>
<rect x="1441" y="228" width="1" height="19" fill="#000"/>
<rect x="1439" y="231" width="5" height="8" fill="#000"/>
<rect x="1449" y="235" width="1" height="20" fill="#000"/>
<rect x="1447" y="238" width="5" height="15" fill="#000"/>
<rect x="1457" y="249" width="1" height="4" fill="#000"/>
<rect x="1455" y="249" width="5" height="4" fill="#000"/>
<rect x="1456" y="250" width="3" height="2" fill="#fff"/>
</g>
<line x1="1195.0" y1="140.5" x2="1288.1" y2="284.4" stroke="#ff0000" stroke-width="3.2"/><polygon points="1293.0,292.0 1282.8,285.5 1287.8,284.0 1291.2,280.0" fill="#ff0000"/>
<line x1="1298.0" y1="295.0" x2="1380.9" y2="209.9" stroke="#ff0000" stroke-width="3.2"/><polygon points="1387.2,203.5 1383.1,214.9 1380.6,210.3 1375.9,207.9" fill="#ff0000"/>
<line x1="1386.8" y1="204.2" x2="1470.5" y2="259.5" stroke="#ff0000" stroke-width="3.2"/><polygon points="1478.0,264.5 1466.1,262.6 1470.1,259.3 1471.6,254.3" fill="#ff0000"/>
<g clip-path="url(#c2)" shape-rendering="crispEdges">
<rect x="1" y="634" width="1" height="100" fill="#c0c0c0"/>
<rect x="9" y="634" width="1" height="100" fill="#c0c0c0"/>
<rect x="17" y="634" width="1" height="98" fill="#c0c0c0"/>
<rect x="25" y="634" width="1" height="100" fill="#c0c0c0"/>
<rect x="33" y="634" width="1" height="103" fill="#c0c0c0"/>
<rect x="41" y="634" width="1" height="110" fill="#c0c0c0"/>
<rect x="49" y="634" width="1" height="118" fill="#c0c0c0"/>
<rect x="57" y="634" width="1" height="124" fill="#c0c0c0"/>
<rect x="65" y="634" width="1" height="127" fill="#c0c0c0"/>
<rect x="73" y="634" width="1" height="128" fill="#c0c0c0"/>
<rect x="81" y="634" width="1" height="129" fill="#c0c0c0"/>
<rect x="89" y="634" width="1" height="131" fill="#c0c0c0"/>
<rect x="97" y="634" width="1" height="129" fill="#c0c0c0"/>
<rect x="105" y="634" width="1" height="128" fill="#c0c0c0"/>
<rect x="113" y="634" width="1" height="126" fill="#c0c0c0"/>
<rect x="121" y="634" width="1" height="122" fill="#c0c0c0"/>
<rect x="129" y="634" width="1" height="128" fill="#c0c0c0"/>
<rect x="137" y="634" width="1" height="132" fill="#c0c0c0"/>
<rect x="145" y="634" width="1" height="130" fill="#c0c0c0"/>
<rect x="153" y="634" width="1" height="127" fill="#c0c0c0"/>
<rect x="161" y="634" width="1" height="122" fill="#c0c0c0"/>
<rect x="169" y="634" width="1" height="108" fill="#c0c0c0"/>
<rect x="177" y="634" width="1" height="97" fill="#c0c0c0"/>
<rect x="185" y="634" width="1" height="86" fill="#c0c0c0"/>
<rect x="193" y="634" width="1" height="74" fill="#c0c0c0"/>
<rect x="201" y="634" width="1" height="65" fill="#c0c0c0"/>
<rect x="209" y="634" width="1" height="59" fill="#c0c0c0"/>
<rect x="217" y="634" width="1" height="52" fill="#c0c0c0"/>
<rect x="225" y="634" width="1" height="48" fill="#c0c0c0"/>
<rect x="233" y="634" width="1" height="48" fill="#c0c0c0"/>
<rect x="241" y="634" width="1" height="50" fill="#c0c0c0"/>
<rect x="249" y="634" width="1" height="50" fill="#c0c0c0"/>
<rect x="257" y="634" width="1" height="46" fill="#c0c0c0"/>
<rect x="265" y="634" width="1" height="43" fill="#c0c0c0"/>
<rect x="273" y="634" width="1" height="40" fill="#c0c0c0"/>
<rect x="281" y="634" width="1" height="40" fill="#c0c0c0"/>
<rect x="289" y="634" width="1" height="40" fill="#c0c0c0"/>
<rect x="297" y="634" width="1" height="40" fill="#c0c0c0"/>
<rect x="305" y="634" width="1" height="40" fill="#c0c0c0"/>
<rect x="313" y="634" width="1" height="38" fill="#c0c0c0"/>
<rect x="321" y="634" width="1" height="36" fill="#c0c0c0"/>
<rect x="329" y="634" width="1" height="36" fill="#c0c0c0"/>
<rect x="337" y="634" width="1" height="22" fill="#c0c0c0"/>
<rect x="345" y="634" width="1" height="12" fill="#c0c0c0"/>
<rect x="353" y="634" width="1" height="7" fill="#c0c0c0"/>
<rect x="361" y="634" width="1" height="7" fill="#c0c0c0"/>
<rect x="369" y="634" width="1" height="22" fill="#c0c0c0"/>
<rect x="377" y="634" width="1" height="38" fill="#c0c0c0"/>
<rect x="385" y="634" width="1" height="48" fill="#c0c0c0"/>
<rect x="393" y="634" width="1" height="56" fill="#c0c0c0"/>
<rect x="401" y="634" width="1" height="60" fill="#c0c0c0"/>
<rect x="409" y="634" width="1" height="68" fill="#c0c0c0"/>
<rect x="417" y="634" width="1" height="73" fill="#c0c0c0"/>
<rect x="425" y="634" width="1" height="74" fill="#c0c0c0"/>
<rect x="433" y="634" width="1" height="74" fill="#c0c0c0"/>
<rect x="441" y="634" width="1" height="76" fill="#c0c0c0"/>
<rect x="449" y="634" width="1" height="78" fill="#c0c0c0"/>
<rect x="457" y="634" width="1" height="80" fill="#c0c0c0"/>
<rect x="465" y="634" width="1" height="72" fill="#c0c0c0"/>
<rect x="473" y="634" width="1" height="69" fill="#c0c0c0"/>
<rect x="481" y="634" width="1" height="66" fill="#c0c0c0"/>
<rect x="489" y="634" width="1" height="64" fill="#c0c0c0"/>
<rect x="497" y="634" width="1" height="57" fill="#c0c0c0"/>
<rect x="505" y="634" width="1" height="56" fill="#c0c0c0"/>
<rect x="513" y="634" width="1" height="53" fill="#c0c0c0"/>
<rect x="521" y="634" width="1" height="52" fill="#c0c0c0"/>
<rect x="529" y="634" width="1" height="50" fill="#c0c0c0"/>
<rect x="537" y="634" width="1" height="48" fill="#c0c0c0"/>
<rect x="545" y="634" width="1" height="45" fill="#c0c0c0"/>
<rect x="553" y="634" width="1" height="40" fill="#c0c0c0"/>
<rect x="561" y="634" width="1" height="36" fill="#c0c0c0"/>
<rect x="569" y="634" width="1" height="35" fill="#c0c0c0"/>
<rect x="577" y="634" width="1" height="42" fill="#c0c0c0"/>
<rect x="585" y="634" width="1" height="46" fill="#c0c0c0"/>
<rect x="593" y="634" width="1" height="52" fill="#c0c0c0"/>
<rect x="601" y="634" width="1" height="57" fill="#c0c0c0"/>
<rect x="609" y="634" width="1" height="60" fill="#c0c0c0"/>
<rect x="617" y="634" width="1" height="64" fill="#c0c0c0"/>
<rect x="625" y="634" width="1" height="65" fill="#c0c0c0"/>
<rect x="633" y="634" width="1" height="65" fill="#c0c0c0"/>
<rect x="641" y="634" width="1" height="62" fill="#c0c0c0"/>
<rect x="649" y="634" width="1" height="60" fill="#c0c0c0"/>
<rect x="657" y="634" width="1" height="58" fill="#c0c0c0"/>
<rect x="665" y="634" width="1" height="52" fill="#c0c0c0"/>
<rect x="673" y="634" width="1" height="48" fill="#c0c0c0"/>
<rect x="681" y="634" width="1" height="42" fill="#c0c0c0"/>
<rect x="689" y="634" width="1" height="38" fill="#c0c0c0"/>
<rect x="697" y="634" width="1" height="38" fill="#c0c0c0"/>
<rect x="705" y="634" width="1" height="32" fill="#c0c0c0"/>
<rect x="713" y="634" width="1" height="26" fill="#c0c0c0"/>
<rect x="721" y="634" width="1" height="16" fill="#c0c0c0"/>
<rect x="729" y="634" width="1" height="8" fill="#c0c0c0"/>
<rect x="737" y="634" width="1" height="1" fill="#c0c0c0"/>
<rect x="745" y="621" width="1" height="14" fill="#c0c0c0"/>
<rect x="753" y="604" width="1" height="31" fill="#c0c0c0"/>
<rect x="761" y="592" width="1" height="43" fill="#c0c0c0"/>
<rect x="769" y="582" width="1" height="53" fill="#c0c0c0"/>
<rect x="777" y="574" width="1" height="61" fill="#c0c0c0"/>
<rect x="785" y="571" width="1" height="64" fill="#c0c0c0"/>
<rect x="793" y="576" width="1" height="59" fill="#c0c0c0"/>
<rect x="801" y="579" width="1" height="56" fill="#c0c0c0"/>
<rect x="809" y="584" width="1" height="51" fill="#c0c0c0"/>
<rect x="817" y="594" width="1" height="41" fill="#c0c0c0"/>
<rect x="825" y="601" width="1" height="34" fill="#c0c0c0"/>
<rect x="833" y="604" width="1" height="31" fill="#c0c0c0"/>
<rect x="841" y="606" width="1" height="29" fill="#c0c0c0"/>
<rect x="849" y="604" width="1" height="31" fill="#c0c0c0"/>
<rect x="857" y="595" width="1" height="40" fill="#c0c0c0"/>
<rect x="865" y="589" width="1" height="46" fill="#c0c0c0"/>
<rect x="873" y="589" width="1" height="46" fill="#c0c0c0"/>
<rect x="881" y="590" width="1" height="45" fill="#c0c0c0"/>
<rect x="889" y="589" width="1" height="46" fill="#c0c0c0"/>
<rect x="897" y="590" width="1" height="45" fill="#c0c0c0"/>
<rect x="905" y="588" width="1" height="47" fill="#c0c0c0"/>
<rect x="913" y="591" width="1" height="44" fill="#c0c0c0"/>
<rect x="921" y="588" width="1" height="47" fill="#c0c0c0"/>
<rect x="929" y="584" width="1" height="51" fill="#c0c0c0"/>
<rect x="937" y="580" width="1" height="55" fill="#c0c0c0"/>
<rect x="945" y="575" width="1" height="60" fill="#c0c0c0"/>
<rect x="953" y="572" width="1" height="63" fill="#c0c0c0"/>
<rect x="961" y="570" width="1" height="65" fill="#c0c0c0"/>
<rect x="969" y="571" width="1" height="64" fill="#c0c0c0"/>
<rect x="977" y="572" width="1" height="63" fill="#c0c0c0"/>
<rect x="985" y="572" width="1" height="63" fill="#c0c0c0"/>
<rect x="993" y="580" width="1" height="55" fill="#c0c0c0"/>
<rect x="1001" y="584" width="1" height="51" fill="#c0c0c0"/>
<rect x="1009" y="588" width="1" height="47" fill="#c0c0c0"/>
<rect x="1017" y="591" width="1" height="44" fill="#c0c0c0"/>
<rect x="1025" y="594" width="1" height="41" fill="#c0c0c0"/>
<rect x="1033" y="597" width="1" height="38" fill="#c0c0c0"/>
<rect x="1041" y="604" width="1" height="31" fill="#c0c0c0"/>
<rect x="1049" y="606" width="1" height="29" fill="#c0c0c0"/>
<rect x="1057" y="603" width="1" height="32" fill="#c0c0c0"/>
<rect x="1065" y="601" width="1" height="34" fill="#c0c0c0"/>
<rect x="1073" y="599" width="1" height="36" fill="#c0c0c0"/>
<rect x="1081" y="599" width="1" height="36" fill="#c0c0c0"/>
<rect x="1089" y="598" width="1" height="37" fill="#c0c0c0"/>
<rect x="1097" y="600" width="1" height="35" fill="#c0c0c0"/>
<rect x="1105" y="598" width="1" height="37" fill="#c0c0c0"/>
<rect x="1113" y="596" width="1" height="39" fill="#c0c0c0"/>
<rect x="1121" y="592" width="1" height="43" fill="#c0c0c0"/>
<rect x="1129" y="592" width="1" height="43" fill="#c0c0c0"/>
<rect x="1137" y="593" width="1" height="42" fill="#c0c0c0"/>
<rect x="1145" y="595" width="1" height="40" fill="#c0c0c0"/>
<rect x="1153" y="595" width="1" height="40" fill="#c0c0c0"/>
<rect x="1161" y="596" width="1" height="39" fill="#c0c0c0"/>
<rect x="1169" y="595" width="1" height="40" fill="#c0c0c0"/>
<rect x="1177" y="597" width="1" height="38" fill="#c0c0c0"/>
<rect x="1185" y="598" width="1" height="37" fill="#c0c0c0"/>
<rect x="1193" y="597" width="1" height="38" fill="#c0c0c0"/>
<rect x="1201" y="596" width="1" height="39" fill="#c0c0c0"/>
<rect x="1209" y="598" width="1" height="37" fill="#c0c0c0"/>
<rect x="1217" y="602" width="1" height="33" fill="#c0c0c0"/>
<rect x="1225" y="607" width="1" height="28" fill="#c0c0c0"/>
<rect x="1233" y="612" width="1" height="23" fill="#c0c0c0"/>
<rect x="1241" y="613" width="1" height="22" fill="#c0c0c0"/>
<rect x="1249" y="617" width="1" height="18" fill="#c0c0c0"/>
<rect x="1257" y="619" width="1" height="16" fill="#c0c0c0"/>
<rect x="1265" y="623" width="1" height="12" fill="#c0c0c0"/>
<rect x="1273" y="625" width="1" height="10" fill="#c0c0c0"/>
<rect x="1281" y="630" width="1" height="5" fill="#c0c0c0"/>
<rect x="1289" y="634" width="1" height="8" fill="#c0c0c0"/>
<rect x="1297" y="634" width="1" height="17" fill="#c0c0c0"/>
<rect x="1305" y="634" width="1" height="24" fill="#c0c0c0"/>
<rect x="1313" y="634" width="1" height="30" fill="#c0c0c0"/>
<rect x="1321" y="634" width="1" height="29" fill="#c0c0c0"/>
<rect x="1329" y="634" width="1" height="26" fill="#c0c0c0"/>
<rect x="1337" y="634" width="1" height="22" fill="#c0c0c0"/>
<rect x="1345" y="634" width="1" height="18" fill="#c0c0c0"/>
<rect x="1353" y="634" width="1" height="14" fill="#c0c0c0"/>
<rect x="1361" y="634" width="1" height="11" fill="#c0c0c0"/>
<rect x="1369" y="634" width="1" height="8" fill="#c0c0c0"/>
<rect x="1377" y="634" width="1" height="7" fill="#c0c0c0"/>
<rect x="1385" y="634" width="1" height="15" fill="#c0c0c0"/>
<rect x="1393" y="634" width="1" height="18" fill="#c0c0c0"/>
<rect x="1401" y="634" width="1" height="22" fill="#c0c0c0"/>
<rect x="1409" y="634" width="1" height="24" fill="#c0c0c0"/>
<rect x="1417" y="634" width="1" height="20" fill="#c0c0c0"/>
<rect x="1425" y="634" width="1" height="15" fill="#c0c0c0"/>
<rect x="1433" y="634" width="1" height="12" fill="#c0c0c0"/>
<rect x="1441" y="634" width="1" height="12" fill="#c0c0c0"/>
<rect x="1449" y="634" width="1" height="14" fill="#c0c0c0"/>
<rect x="1457" y="634" width="1" height="15" fill="#c0c0c0"/>
<polyline points="0.0,700.0 10.0,711.2 22.5,720.0 40.0,730.0 57.5,740.0 75.0,747.5 95.0,756.2 112.5,762.0 137.5,763.0 155.0,763.0 165.0,761.2 185.0,752.5 200.0,740.0 212.5,727.5 225.0,713.8 237.5,702.5 250.0,692.5 265.0,686.2 282.5,680.0 305.0,677.0 320.0,673.8 337.5,671.2 355.0,663.8 367.5,658.2 382.5,658.2 395.0,663.0 407.5,668.8 425.0,684.5 435.0,692.5 447.5,701.2 457.5,706.2 475.0,708.8 490.0,706.8 507.5,702.5 530.0,693.8 550.0,687.5 565.0,681.2 580.0,678.8 597.5,678.8 615.0,681.2 625.0,684.2 635.0,690.0 645.0,692.5 665.0,695.5 685.0,690.8 702.5,683.8 720.0,675.0 732.5,666.2 747.5,652.5 760.0,638.8 770.0,625.0 782.5,610.0 795.0,597.5 807.5,587.5 817.5,583.8 830.0,583.2 840.0,586.8 850.0,591.0 865.0,594.2 882.5,596.2 892.5,595.8 905.0,592.5 922.5,588.8 937.5,587.0 952.5,583.8 962.5,580.8 977.5,577.5 987.5,574.2 1002.5,574.2 1017.5,576.8 1030.0,581.2 1042.5,587.0 1055.0,593.0 1070.0,596.8 1085.0,599.2 1100.0,600.5 1115.0,598.8 1130.0,595.8 1150.0,594.5 1195.0,594.5 1215.0,595.5 1230.0,598.0 1245.0,602.5 1262.5,607.5 1280.0,615.8 1297.5,625.8 1315.0,637.5 1330.0,646.8 1342.5,653.0 1350.0,655.5 1362.5,656.2 1372.5,654.5 1382.5,651.2 1405.0,650.8 1430.0,650.8 1457.0,650.8" fill="none" stroke="#ff0000" stroke-width="1" stroke-dasharray="3,3"/>
</g>
<g shape-rendering="crispEdges" fill="#000">
<rect x="1653" y="634" width="2" height="1"/>
</g>
<g shape-rendering="crispEdges">
<line x1="0" y1="809.5" x2="1652" y2="809.5" stroke="#c0c0c0" stroke-width="1" stroke-dasharray="3,3"/>
<line x1="0" y1="851.5" x2="1652" y2="851.5" stroke="#c0c0c0" stroke-width="1" stroke-dasharray="3,3"/>
<line x1="0" y1="900.5" x2="1652" y2="900.5" stroke="#c0c0c0" stroke-width="1" stroke-dasharray="3,3"/>
</g>
<polyline clip-path="url(#c3)" points="-7.5,889.0 1.5,887.5 9.5,887.5 17.5,878.2 25.5,884.2 33.5,888.0 41.5,893.0 49.5,894.5 57.5,895.5 65.5,895.5 73.5,896.2 81.5,896.2 89.5,898.2 97.5,897.5 105.5,898.8 113.5,900.5 121.5,883.2 129.5,895.0 137.5,891.2 145.5,884.5 153.5,884.2 161.5,880.0 169.5,861.2 177.5,862.5 185.5,859.5 193.5,853.8 201.5,858.8 209.5,860.5 217.5,856.2 225.5,860.0 233.5,866.2 241.5,870.0 249.5,868.2 257.5,860.5 265.5,859.2 273.5,860.5 281.5,864.2 289.5,867.5 297.5,866.2 305.5,869.5 313.5,860.0 321.5,861.8 329.5,866.2 337.5,837.0 345.5,837.0 353.5,845.0 361.5,852.5 369.5,873.2 377.5,879.5 385.5,872.0 393.5,873.2 401.5,871.2 409.5,877.0 417.5,872.5 425.5,871.2 433.5,872.5 441.5,873.8 449.5,877.0 457.5,878.2 465.5,860.8 473.5,865.5 481.5,865.5 489.5,864.2 497.5,857.5 505.5,865.0 513.5,861.2 521.5,865.5 529.5,863.2 537.5,865.5 545.5,860.0 553.5,856.2 561.5,854.2 569.5,861.8 577.5,873.2 585.5,874.5 593.5,875.5 601.5,878.2 609.5,879.2 617.5,879.2 625.5,879.2 633.5,875.0 641.5,871.2 649.5,871.2 657.5,876.2 665.5,859.5 673.5,859.2 681.5,855.5 689.5,860.0 697.5,863.8 705.5,853.8 713.5,849.5 721.5,839.5 729.5,838.0 737.5,835.8 745.5,822.5 753.5,815.0 761.5,819.5 769.5,818.2 777.5,817.5 785.5,822.5 793.5,842.0 801.5,838.2 809.5,843.8 817.5,854.5 825.5,853.2 833.5,846.2 841.5,846.2 849.5,838.2 857.5,828.2 865.5,830.0 873.5,837.0 881.5,840.5 889.5,837.0 897.5,838.2 905.5,834.5 913.5,839.2 921.5,835.0 929.5,828.8 937.5,827.5 945.5,824.5 953.5,825.5 961.5,824.2 969.5,828.0 977.5,828.2 985.5,825.0 993.5,849.5 1001.5,840.5 1009.5,842.5 1017.5,841.2 1025.5,843.2 1033.5,842.0 1041.5,854.5 1049.5,844.5 1057.5,837.5 1065.5,836.2 1073.5,835.5 1081.5,835.5 1089.5,834.2 1097.5,838.2 1105.5,834.5 1113.5,831.8 1121.5,825.5 1129.5,834.2 1137.5,836.2 1145.5,837.5 1153.5,834.5 1161.5,835.5 1169.5,830.5 1177.5,839.2 1185.5,835.5 1193.5,831.8 1201.5,832.5 1209.5,835.8 1217.5,845.8 1225.5,849.5 1233.5,854.5 1241.5,844.5 1249.5,850.8 1257.5,849.5 1265.5,853.2 1273.5,853.8 1281.5,858.8 1289.5,879.2 1297.5,875.5 1305.5,875.5 1313.5,876.2 1321.5,860.8 1329.5,853.8 1337.5,853.2 1345.5,849.5 1353.5,848.2 1361.5,849.2 1369.5,849.2 1377.5,853.0 1385.5,869.5 1393.5,866.2 1401.5,869.5 1409.5,867.5 1417.5,851.2 1425.5,846.2 1433.5,852.0 1441.5,854.5 1449.5,857.0 1457.5,858.0" fill="none" stroke="#1e90ff" stroke-width="1" shape-rendering="crispEdges"/>
<line x1="1370.0" y1="645.0" x2="1456.0" y2="647.3" stroke="#ff0000" stroke-width="3"/><polygon points="1465.0,647.5 1453.9,651.7 1455.5,647.3 1454.1,642.7" fill="#ff0000"/>
<line x1="1364.0" y1="853.0" x2="1458.5" y2="859.8" stroke="#ff0000" stroke-width="3"/><polygon points="1467.5,860.5 1456.2,864.2 1458.0,859.8 1456.9,855.2" fill="#ff0000"/>
<g shape-rendering="crispEdges" fill="#000">
<rect x="1653" y="25" width="2" height="1"/>
<rect x="1653" y="58" width="2" height="1"/>
<rect x="1653" y="91" width="2" height="1"/>
<rect x="1653" y="124" width="2" height="1"/>
<rect x="1653" y="157" width="2" height="1"/>
<rect x="1653" y="190" width="2" height="1"/>
<rect x="1653" y="223" width="2" height="1"/>
<rect x="1653" y="256" width="2" height="1"/>
<rect x="1653" y="289" width="2" height="1"/>
<rect x="1653" y="322" width="2" height="1"/>
<rect x="1653" y="355" width="2" height="1"/>
<rect x="1653" y="388" width="2" height="1"/>
<rect x="1653" y="421" width="2" height="1"/>
<rect x="1653" y="454" width="2" height="1"/>
<rect x="1653" y="487" width="2" height="1"/>
<rect x="1653" y="520" width="2" height="1"/>
<rect x="1653" y="553" width="2" height="1"/>
</g>
<g class="k" font-size="9" fill="#000">
<text x="1658.5" y="28.8">1.28000</text>
<text x="1658.5" y="61.8">1.27590</text>
<text x="1658.5" y="94.8">1.27180</text>
<text x="1658.5" y="127.8">1.26760</text>
<text x="1658.5" y="160.8">1.26350</text>
<text x="1658.5" y="193.8">1.25940</text>
<text x="1658.5" y="226.8">1.25530</text>
<text x="1658.5" y="259.8">1.25120</text>
<text x="1658.5" y="292.8">1.24710</text>
<text x="1658.5" y="325.8">1.24300</text>
<text x="1658.5" y="358.8">1.23890</text>
<text x="1658.5" y="391.8">1.23480</text>
<text x="1658.5" y="424.8">1.23060</text>
<text x="1658.5" y="457.8">1.22650</text>
<text x="1658.5" y="490.8">1.22240</text>
<text x="1658.5" y="523.8">1.21830</text>
<text x="1658.5" y="556.8">1.21420</text>
<text x="1656.2" y="568.8">0.006028</text>
<text x="1656" y="637.5">0.00</text>
<text x="1656" y="773.5">-0.011431</text>
<text x="1655.6" y="789.7">100</text>
<text x="1654.8" y="812.5">80</text>
<text x="1654.8" y="854.5">50</text>
<text x="1654.8" y="903.5">15</text>
<text x="1654.8" y="918.3">0</text>
</g>
<g shape-rendering="crispEdges">
<rect x="1654" y="244" width="41" height="11" fill="#000"/>
</g>
<text x="1658.5" y="253.5" font-size="9" fill="#fff">1.25205</text>
<rect x="1654" y="158" width="41" height="11" fill="#ff0000" shape-rendering="crispEdges"/>
<text x="1658.5" y="166.7" font-size="9" fill="#fff">1.26265</text>
<rect x="1654" y="199" width="41" height="11" fill="#ff4500" shape-rendering="crispEdges"/>
<text x="1658.5" y="207.7" font-size="9" fill="#fff">1.25762</text>
<rect x="1654" y="240" width="41" height="11" fill="#32cd32" shape-rendering="crispEdges"/>
<text x="1658.5" y="248.7" font-size="9" fill="#fff">1.25250</text>
<rect x="1654" y="276" width="41" height="11" fill="#0000ff" shape-rendering="crispEdges"/>
<text x="1658.5" y="284.7" font-size="9" fill="#fff">1.24797</text>
<rect x="1654" y="313" width="41" height="11" fill="#0000ff" shape-rendering="crispEdges"/>
<text x="1658.5" y="321.7" font-size="9" fill="#fff">1.24332</text>
<g shape-rendering="crispEdges" fill="#000">
<rect x="57" y="923" width="1" height="3"/>
<rect x="121" y="923" width="1" height="3"/>
<rect x="185" y="923" width="1" height="3"/>
<rect x="249" y="923" width="1" height="3"/>
<rect x="313" y="923" width="1" height="3"/>
<rect x="377" y="923" width="1" height="3"/>
<rect x="441" y="923" width="1" height="3"/>
<rect x="505" y="923" width="1" height="3"/>
<rect x="569" y="923" width="1" height="3"/>
<rect x="633" y="923" width="1" height="3"/>
<rect x="697" y="923" width="1" height="3"/>
<rect x="761" y="923" width="1" height="3"/>
<rect x="825" y="923" width="1" height="3"/>
<rect x="889" y="923" width="1" height="3"/>
<rect x="953" y="923" width="1" height="3"/>
<rect x="1017" y="923" width="1" height="3"/>
<rect x="1081" y="923" width="1" height="3"/>
<rect x="1145" y="923" width="1" height="3"/>
<rect x="1209" y="923" width="1" height="3"/>
<rect x="1273" y="923" width="1" height="3"/>
<rect x="1337" y="923" width="1" height="3"/>
<rect x="1401" y="923" width="1" height="3"/>
</g>
<g class="k" font-size="9.4" fill="#000">
<text x="-7.3" y="934.8">25 Apr 2022</text>
<text x="56.7" y="934.8">26 Apr 20:00</text>
<text x="120.7" y="934.8">28 Apr 04:00</text>
<text x="184.7" y="934.8">29 Apr 12:00</text>
<text x="248.7" y="934.8">2 May 20:00</text>
<text x="312.7" y="934.8">4 May 04:00</text>
<text x="376.7" y="934.8">5 May 12:00</text>
<text x="440.7" y="934.8">8 May 23:00</text>
<text x="504.7" y="934.8">10 May 04:00</text>
<text x="568.7" y="934.8">11 May 12:00</text>
<text x="632.7" y="934.8">12 May 20:00</text>
<text x="696.7" y="934.8">16 May 04:00</text>
<text x="760.7" y="934.8">17 May 12:00</text>
<text x="824.7" y="934.8">18 May 20:00</text>
<text x="888.7" y="934.8">20 May 04:00</text>
<text x="952.7" y="934.8">23 May 12:00</text>
<text x="1016.7" y="934.8">24 May 20:00</text>
<text x="1080.7" y="934.8">26 May 04:00</text>
<text x="1144.7" y="934.8">27 May 12:00</text>
<text x="1208.7" y="934.8">30 May 20:00</text>
<text x="1272.7" y="934.8">1 Jun 04:00</text>
<text x="1336.7" y="934.8">2 Jun 12:00</text>
<text x="1400.7" y="934.8">5 Jun 23:00</text>
</g>
<g class="k" font-size="9" fill="#000">
<text x="8.5" y="33" textLength="203" lengthAdjust="spacingAndGlyphs">GBPUSD-,H4&#160; 1.25168 1.25210 1.25163 1.25205</text>
<text x="-1.5" y="571" textLength="152" lengthAdjust="spacingAndGlyphs">MACD(12,26,9) -0.001102 -0.001354</text>
<text x="-1.5" y="792" textLength="66" lengthAdjust="spacingAndGlyphs">RSI(14) 45.3735</text>
</g>
<polygon points="0,29 4,32 0,32" fill="#000"/>
</svg>
<div id="tb">
<div style="position:absolute;left:0;top:16px;width:1699px;height:1px;background:#f9f9f9"></div>
<div class="hl" style="left:288px;width:23px"></div>
<div class="hl" style="left:439px;width:23px"></div>
<div class="hl" style="left:467px;width:23px"></div>
<div class="hl" style="left:627px;width:24px"></div>
<div class="hl" style="left:1073px;width:24px"></div>
<div class="sep" style="left:13px"></div>
<div class="sep" style="left:249px;height:17px"></div>
<div class="grip" style="left:253px"></div>
<div class="sep" style="left:287px"></div>
<div class="sep" style="left:344px"></div>
<div class="sep" style="left:434px"></div>
<div class="sep" style="left:467px"></div>
<div class="sep" style="left:496px"></div>
<div class="sep" style="left:617px;height:17px"></div>
<div class="grip" style="left:621px"></div>
<div class="sep" style="left:627px"></div>
<div class="sep" style="left:684px"></div>
<div class="sep" style="left:923px;height:17px"></div>
<div class="grip" style="left:927px"></div>
<div class="sep" style="left:1073px"></div>
<div class="sep" style="left:1184px;height:17px"></div>
<svg width="1699" height="17" viewBox="0 0 1699 17">
<!-- magnifier stub -->
<path d="M0 7 L5 12" stroke="#d8a020" stroke-width="3" stroke-linecap="round"/>
<circle cx="-1" cy="3" r="4.5" fill="#cfe6fa" stroke="#3a7bd5" stroke-width="1.5"/>
<!-- new order -->
<rect x="23.5" y="-3.5" width="10" height="13" fill="#fff" stroke="#707070"/>
<path d="M26 2h5M26 5h3" stroke="#909090"/>
<path d="M33 2.500v11.500M27.200 8.300h11.600" stroke="#0a8a0a" stroke-width="4.600"/>
<path d="M33 3.500v9.500M28.200 8.300h9.600" stroke="#2fd02f" stroke-width="2.600"/>
<!-- book -->
<defs>
<linearGradient id="gb" x1="0" y1="0" x2="0.6" y2="1"><stop offset="0" stop-color="#fbe04a"/><stop offset=".55" stop-color="#e8b020"/><stop offset="1" stop-color="#b47408"/></linearGradient>
<linearGradient id="gy" x1="0" y1="0" x2="0" y2="1"><stop offset="0" stop-color="#fff080"/><stop offset="1" stop-color="#e8a818"/></linearGradient>
<radialGradient id="gg" cx=".2" cy=".2" r="1"><stop offset="0" stop-color="#d8ecd8"/><stop offset="1" stop-color="#30a030"/></radialGradient>
</defs>
<path d="M90.300 6.800 L96 0 L99 -3 L106 6.500 L98 12.600 Z" fill="url(#gb)" stroke="#a86c08" stroke-width=".9"/>
<path d="M91.500 8.300 L98 13 L105.500 8" fill="none" stroke="#8a5a08" stroke-width="1"/>
<path d="M91 7.500 L98 12.200 L105.800 7.200" fill="none" stroke="#fff4c8" stroke-width=".9"/>
<!-- cloud -->
<rect x="120.500" y="-3" width="10.500" height="9" fill="#2a9af0" stroke="#1c78d0" stroke-width=".8"/>
<rect x="125" y="-2" width="5" height="5" fill="#e4f2ff"/>
<path d="M120.300 12.300 a3.200 3.200 0 0 1 .6 -6 a4.300 4.300 0 0 1 7.600 -1 a3.400 3.400 0 0 1 3.600 7 Z" fill="#f4f8fd" stroke="#5876b0" stroke-width="1"/>
<!-- signal -->
<path d="M154 5 L154 13 A8 8 0 0 0 162 5 A8 8 0 0 0 158 -2 Z" fill="url(#gg)" opacity=".85"/>
<circle cx="154" cy="5" r="7.300" fill="none" stroke="#a8c4ec" stroke-width="1.200"/>
<circle cx="154" cy="5" r="4.800" fill="none" stroke="#6c9ce0" stroke-width="1.300"/>
<circle cx="154" cy="5" r="2.300" fill="#2a5cc8"/>
<path d="M154.200 5 v7.800" stroke="#18a018" stroke-width="1.300"/>
<!-- autotrading -->
<path d="M174.300 4 L188 4 L181 12.500 Z" fill="url(#gy)" stroke="#c89818" stroke-width=".7"/>
<ellipse cx="181" cy="1" rx="7.500" ry="3.300" fill="#58b0e8" stroke="#2a80c8" stroke-width=".8"/>
<ellipse cx="181" cy="-.5" rx="4.500" ry="1.800" fill="#a8dcf8"/>
<circle cx="185.300" cy="8.400" r="4" fill="#e01808"/>
<circle cx="185.300" cy="8.400" r="4" fill="none" stroke="#f8b0a0" stroke-width=".5"/>
<rect x="184" y="7.100" width="2.700" height="2.700" fill="#fff"/>
<!-- bar chart icon -->
<path d="M268.500 -2V12.500M264.500 10.500H279.500" stroke="#303030" fill="none"/>
<path d="M277 9l3 1.500l-3 1.500z" fill="#303030"/>
<path d="M274.500 -2V8M272.500 6.500h2M274.500 1.500h2" stroke="#18a018" stroke-width="1.400" fill="none"/>
<!-- candle icon -->
<path d="M296.500 -2V12.500M292.500 10.500H307.500" stroke="#303030" fill="none"/>
<path d="M305 9l3 1.500l-3 1.500z" fill="#303030"/>
<rect x="299.500" y="-2" width="4" height="8.500" fill="#20c020" stroke="#0a700a" stroke-width=".8"/>
<path d="M301.500 6.500v2" stroke="#0a700a"/>
<!-- line icon -->
<path d="M324.500 -2V12.500M320.500 10.500H335.500" stroke="#303030" fill="none"/>
<path d="M333 9l3 1.500l-3 1.500z" fill="#303030"/>
<path d="M322 8.500 Q327 -1 330 2.500 T334.500 6.500" stroke="#18a018" stroke-width="1.200" fill="none"/>
<!-- zoom in -->
<path d="M362.500 7 L368 12" stroke="#b88818" stroke-width="3.400" stroke-linecap="round"/>
<path d="M362.500 7 L368 12" stroke="#f4d050" stroke-width="1.800" stroke-linecap="round"/>
<circle cx="358.500" cy="2.500" r="5" fill="#cfe6fa" stroke="#3a7bd5" stroke-width="1.500"/>
<path d="M355.500 2.500h6M358.500 -0.500v6" stroke="#2858c0" stroke-width="1.600"/>
<!-- zoom out -->
<path d="M390.500 7 L396 12" stroke="#b88818" stroke-width="3.400" stroke-linecap="round"/>
<path d="M390.500 7 L396 12" stroke="#f4d050" stroke-width="1.800" stroke-linecap="round"/>
<circle cx="386.500" cy="2.500" r="5" fill="#cfe6fa" stroke="#3a7bd5" stroke-width="1.500"/>
<path d="M383.500 2.500h6" stroke="#2858c0" stroke-width="1.600"/>
<!-- grid -->
<rect x="409" y="-3" width="7.500" height="7" fill="#48b048"/><rect x="417.500" y="-3" width="7.500" height="7" fill="#3a70d8"/>
<rect x="409" y="5" width="7.500" height="8" fill="#3a70d8"/><rect x="417.500" y="5" width="7.500" height="8" fill="#48b048"/>
<path d="M411 1h4M419.500 1h4M411 10h4M419.500 10h4" stroke="#fff" stroke-width="1.600"/>
<path d="M409 6.500h7.500M417.500 6.500h7.500" stroke="#1c3c90" stroke-width="1.500" opacity=".55"/>
<!-- chart shift -->
<path d="M448.500 -2V12.500M444.500 10.500H459.500" stroke="#303030" fill="none"/>
<path d="M457 9l3 1.500l-3 1.500z" fill="#303030"/>
<path d="M452 1.500l4.500 3l-4.500 3z" fill="#30c030" stroke="#108010" stroke-width=".7"/>
<!-- autoscroll -->
<path d="M476.500 -2V12.500M472.500 10.500H487.500" stroke="#303030" fill="none"/>
<path d="M485 9l3 1.500l-3 1.500z" fill="#303030"/>
<path d="M481.500 -2V8.500" stroke="#2060c0"/>
<path d="M482.500 4h4.500M482.500 4l2.500 -2.500M482.500 4l2.500 2.500" stroke="#d03010" stroke-width="1.200" fill="none"/>
<!-- indicators -->
<rect x="506.500" y="-3.500" width="10" height="13" fill="#fff" stroke="#707070"/>
<path d="M509 2h3" stroke="#909090"/>
<path d="M516.500 3.300v11.500M510.700 9h11.600" stroke="#0a8a0a" stroke-width="4.600"/>
<path d="M516.500 4.300v9.500M511.700 9h9.600" stroke="#2fd02f" stroke-width="2.600"/>
<path d="M528 4.500h5l-2.500 2.500z" fill="#000"/>
<!-- clock -->
<circle cx="552" cy="5" r="6.500" fill="#fff" stroke="#2a68d0" stroke-width="2.400"/>
<circle cx="552" cy="5" r="7.600" fill="none" stroke="#184aa0" stroke-width=".6"/>
<path d="M552 1v4.500h3" stroke="#606060" fill="none"/>
<path d="M566.500 4.500h5l-2.500 2.500z" fill="#000"/>
<!-- template -->
<rect x="583.500" y="-2.500" width="15" height="14" fill="#fff" stroke="#2a68d0" stroke-width="1.400"/>
<path d="M585 6h12" stroke="#2a68d0"/>
<path d="M586 3.500l3 -1l3 .5l4 -1.500" stroke="#c03010" fill="none"/>
<path d="M586 9.500l3 -1.500l3 1l4 -1.500" stroke="#18a018" fill="none"/>
<path d="M605.500 4.500h5l-2.500 2.500z" fill="#000"/>
<!-- cursor -->
<path d="M635 -2 V10 L638 7.500 L640.500 12.500 L642.500 11.500 L640 6.500 L644 6.500 Z" fill="#303030"/>
<!-- crosshair -->
<path d="M667.500 -2V13M660 5.500H675" stroke="#303030"/>
<rect x="666.500" y="4.500" width="2" height="2" fill="#f0f0f0"/>
<!-- vline hline trend -->
<path d="M701.500 -2V11.500" stroke="#303030"/>
<path d="M724 5.500H736" stroke="#303030"/>
<path d="M751.500 12 L765.500 -1" stroke="#303030"/>
<!-- channel -->
<path d="M778 9 L790 -3M780 12 L792 0M782 8.500l1.500 3M785.500 5l1.500 3M789 1.500l1.500 3" stroke="#303030" fill="none"/>
<!-- fibo -->
<path d="M807 1.500h13M807 5.500h13M807 9.500h10" stroke="#303030" stroke-dasharray="1,1" shape-rendering="crispEdges"/>
<!-- T box -->
<rect x="864.500" y="1.500" width="11" height="10" fill="none" stroke="#505050" stroke-dasharray="1,1" shape-rendering="crispEdges"/>
<!-- arrows icon -->
<path d="M894.500 -1l3 3l-3 3l-3 -3zM901.500 6.500l3 3l-3 3l-3 -3z" fill="#303030"/>
<path d="M893 6l2.500 2.500l5 -5" stroke="#303030" stroke-width="1.300" fill="none"/>
<path d="M912 4.500h5l-2.500 2.500z" fill="#000"/>
<!-- search -->
<path d="M1651.500 5.500 L1647 9.500" stroke="#2858c8" stroke-width="2.600" stroke-linecap="round"/>
<circle cx="1654.500" cy="2.500" r="3.600" fill="#f4f8ff" stroke="#3566d6" stroke-width="1.500"/>
<!-- chat -->
<ellipse cx="1676" cy="7.500" rx="5" ry="4" fill="#e4e6ee" stroke="#c4c6d0" stroke-width=".8"/>
<path d="M1673 10.500l1.500 3l2 -2.500z" fill="#dcdee6"/>
<circle cx="1685.500" cy="2.300" r="8.300" fill="#e23414"/>
<text x="1685.500" y="7" font-size="12" font-family="Liberation Serif, serif" fill="#fff" text-anchor="middle">1</text>
<text x="788.800" y="14" font-size="7" font-weight="bold" font-family="Liberation Sans, sans-serif" fill="#303030">E</text>
<text x="816.800" y="14" font-size="7" font-weight="bold" font-family="Liberation Sans, sans-serif" fill="#303030">F</text>
<text x="837.300" y="10.200" font-size="13" font-family="Liberation Sans, sans-serif" fill="#404040" stroke="#404040" stroke-width=".3">A</text>
<text x="866.300" y="10.700" font-size="11.500" font-family="Liberation Sans, sans-serif" fill="#404040" stroke="#404040" stroke-width=".4">T</text>
</svg>
<span class="t" style="left:42px">新订单</span>
<span class="t" style="left:194px">自动交易</span>
<span class="p" style="left:938.500px">M1</span>
<span class="p" style="left:966.500px">M5</span>
<span class="p" style="left:992.500px">M15</span>
<span class="p" style="left:1020.500px">M30</span>
<span class="p" style="left:1051.500px">H1</span>
<span class="p" style="left:1078.500px">H4</span>
<span class="p" style="left:1107.500px">D1</span>
<span class="p" style="left:1135px">W1</span>
<span class="p" style="left:1161.500px">MN</span>
</div>

<div id="oc">
<div class="sell"></div><div class="mid"></div><div class="fld"></div><div class="dn"></div><div class="up"></div><div class="buy"></div>
<div class="hln" style="left:0;width:44px"></div><div class="hln" style="left:167px;width:44px"></div><div class="ps"></div><div class="gap"></div><div class="pb"></div>
<div class="tri" style="left:58px;top:9.500px;border-top:3px solid #5a70c8"></div>
<div class="tri" style="left:147px;top:8.500px;border-bottom:3px solid #5a70c8"></div>
<span class="lb" style="left:8.500px">SELL</span>
<span class="lb" style="left:176.500px;letter-spacing:0">BUY</span>
<span class="vol" style="left:112px">1.00</span>
<span class="sm" style="left:16px">1.25</span>
<span class="big" style="left:43.500px">20</span>
<span class="sup" style="left:84px">5</span>
<span class="sm" style="left:126.500px">1.25</span>
<span class="big" style="left:154.500px">23</span>
<span class="sup" style="left:194px">0</span>
</div>

</body></html>
